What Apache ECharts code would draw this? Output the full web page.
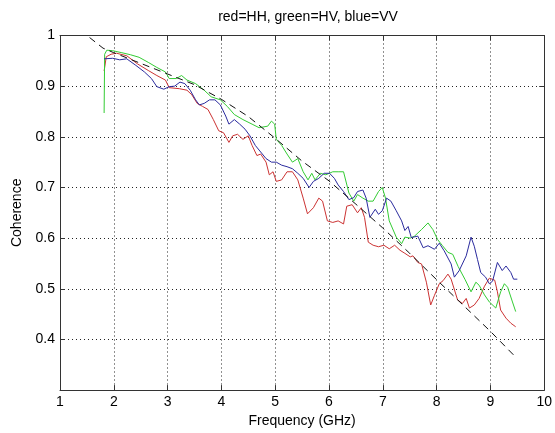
<!DOCTYPE html>
<html>
<head>
<meta charset="utf-8">
<script src="https://cdn.jsdelivr.net/npm/echarts@6/dist/echarts.min.js"></script>
<style>html,body{margin:0;padding:0;background:#fff}#c{width:555px;height:433px}</style>
</head>
<body>
<div id="c"></div>
<script>
// Frequency (GHz) / coherence readings
var hhX = [1.82,1.86,1.95,2.05,2.24,2.44,2.64,2.80,2.96,3.03,3.22,3.36,3.45,3.55,3.65,3.75,3.85,3.95,4.04,4.14,4.21,4.30,4.40,4.50,4.57,4.66,4.73,4.83,4.89,4.96,5.02,5.12,5.22,5.32,5.42,5.52,5.60,5.71,5.81,5.88,5.97,6.07,6.17,6.27,6.33,6.43,6.53,6.60,6.66,6.73,6.82,6.92,7.02,7.12,7.22,7.32,7.41,7.51,7.56,7.65,7.72,7.81,7.89,7.96,8.05,8.12,8.21,8.27,8.39,8.48,8.55,8.61,8.70,8.79,8.89,8.98,9.08,9.13,9.19,9.29,9.38,9.47];
var hhY = [0.930,0.958,0.963,0.965,0.960,0.944,0.931,0.921,0.912,0.897,0.895,0.892,0.883,0.866,0.860,0.854,0.834,0.812,0.808,0.789,0.802,0.805,0.795,0.802,0.783,0.763,0.766,0.750,0.725,0.731,0.712,0.715,0.731,0.731,0.715,0.679,0.648,0.660,0.679,0.673,0.634,0.631,0.634,0.628,0.663,0.666,0.650,0.660,0.641,0.592,0.586,0.583,0.586,0.579,0.586,0.576,0.570,0.563,0.565,0.552,0.549,0.513,0.468,0.487,0.510,0.516,0.529,0.519,0.478,0.471,0.481,0.462,0.468,0.481,0.505,0.521,0.517,0.494,0.458,0.442,0.432,0.425];

var hvX = [1.82,1.83,1.87,1.98,2.15,2.31,2.47,2.64,2.80,2.96,3.03,3.16,3.26,3.36,3.52,3.68,3.81,3.98,4.11,4.24,4.40,4.57,4.70,4.86,4.93,4.99,5.02,5.12,5.22,5.32,5.42,5.52,5.61,5.68,5.74,5.84,5.94,6.07,6.17,6.27,6.37,6.46,6.53,6.63,6.73,6.82,6.92,6.99,7.05,7.12,7.25,7.35,7.41,7.51,7.59,7.72,7.84,7.93,8.02,8.11,8.21,8.30,8.40,8.53,8.64,8.73,8.79,8.89,8.98,9.10,9.19,9.26,9.32,9.41,9.47];
var hvY = [0.847,0.963,0.971,0.970,0.966,0.962,0.957,0.947,0.937,0.928,0.915,0.915,0.921,0.912,0.905,0.892,0.879,0.873,0.860,0.844,0.834,0.825,0.818,0.821,0.831,0.825,0.795,0.783,0.766,0.750,0.757,0.731,0.715,0.728,0.715,0.728,0.725,0.731,0.731,0.731,0.689,0.673,0.686,0.679,0.673,0.673,0.692,0.700,0.679,0.634,0.602,0.589,0.602,0.600,0.604,0.617,0.630,0.617,0.597,0.585,0.572,0.568,0.544,0.518,0.494,0.513,0.507,0.488,0.474,0.462,0.494,0.510,0.503,0.474,0.455];

var vvX = [1.82,1.98,2.11,2.24,2.41,2.57,2.70,2.80,2.93,3.03,3.13,3.23,3.32,3.42,3.52,3.59,3.68,3.78,3.88,3.98,4.08,4.14,4.24,4.34,4.44,4.53,4.63,4.73,4.83,4.93,5.02,5.12,5.22,5.32,5.42,5.52,5.63,5.71,5.81,5.91,6.01,6.10,6.17,6.27,6.37,6.46,6.53,6.63,6.69,6.76,6.86,6.92,6.99,7.07,7.15,7.25,7.35,7.41,7.47,7.53,7.65,7.75,7.84,7.96,8.05,8.14,8.27,8.33,8.42,8.55,8.64,8.70,8.76,8.82,8.91,8.98,9.04,9.13,9.22,9.29,9.38,9.43,9.50];
var vvY = [0.954,0.955,0.952,0.954,0.941,0.928,0.915,0.899,0.894,0.899,0.900,0.908,0.905,0.892,0.873,0.863,0.866,0.873,0.873,0.863,0.841,0.825,0.834,0.825,0.815,0.802,0.783,0.770,0.757,0.750,0.750,0.744,0.741,0.737,0.728,0.718,0.700,0.712,0.718,0.728,0.728,0.718,0.705,0.692,0.676,0.680,0.692,0.695,0.679,0.641,0.657,0.647,0.654,0.679,0.673,0.654,0.634,0.615,0.623,0.601,0.604,0.581,0.585,0.578,0.590,0.575,0.549,0.523,0.536,0.565,0.602,0.584,0.558,0.532,0.523,0.510,0.515,0.552,0.536,0.545,0.532,0.519,0.519];

var fitX = [1.55,1.80,2.0,2.5,3.0,3.5,4.0,4.5,5.0,5.5,6.0,6.5,7.0,7.5,8.0,8.5,9.0,9.48];
var fitY = [0.996,0.975,0.966,0.945,0.924,0.903,0.874,0.840,0.797,0.752,0.713,0.667,0.620,0.570,0.518,0.467,0.416,0.364];

var xTicks = [1,2,3,4,5,6,7,8,9,10];
var yTicks = [0.3,0.4,0.5,0.6,0.7,0.8,0.9,1];

function pairs(xs, ys){ return xs.map(function(x,i){ return [x, ys[i]]; }); }

var font = 'Liberation Sans, Arial, sans-serif';
var frame = '#333';
var fs = 14;
function xAx(pos, show){
  return {
    type:'value', position:pos, min:xTicks[0], max:xTicks[xTicks.length-1], interval:1,
    axisLine:{show:true, onZero:false, lineStyle:{color:frame, width:1}},
    axisTick:{show:true, inside:true, length:5, lineStyle:{color:frame}},
    axisLabel:{show:show, color:'#000', fontSize:fs, fontFamily:font, margin:5},
    splitLine:{show:show, lineStyle:{color:'#222', type:[1,3], width:1}}
  };
}
function yAx(pos, show){
  return {
    type:'value', position:pos, min:yTicks[0], max:yTicks[yTicks.length-1], interval:0.1,
    axisLine:{show:true, onZero:false, lineStyle:{color:frame, width:1}},
    axisTick:{show:true, inside:true, length:5, lineStyle:{color:frame}},
    axisLabel:{show:show, color:'#000', fontSize:fs, fontFamily:font, margin:5,
      formatter:function(v){ if (Math.abs(v-0.3)<1e-6) return ''; if (Math.abs(v-1)<1e-6) return '1'; return v.toFixed(1); }},
    splitLine:{show:show, lineStyle:{color:'#222', type:[1,3], width:1}}
  };
}

var chart = echarts.init(document.getElementById('c'), null, {renderer:'canvas'});
var xb = xAx('bottom', true); xb.name = 'Frequency (GHz)'; xb.nameLocation='middle'; xb.nameGap=22;
xb.nameTextStyle = {color:'#000', fontSize:fs, fontFamily:font};
var yl = yAx('left', true); yl.name='Coherence'; yl.nameLocation='middle'; yl.nameGap=36;
yl.nameTextStyle = {color:'#000', fontSize:fs, fontFamily:font};

function line(name, xs, ys, color, dash){
  return {name:name, type:'line', xAxisIndex:0, yAxisIndex:0, data:pairs(xs,ys), showSymbol:false, symbol:'none',
    lineStyle:{color:color, width:1, type: dash ? [7,5] : 'solid'}, itemStyle:{color:color}, animation:false, z: dash?3:2};
}

chart.setOption({
  animation:false,
  backgroundColor:'#fff',
  title:{text:'red=HH, green=HV, blue=VV', left:303, textAlign:'center', top:5,
    textStyle:{fontSize:fs, fontWeight:'normal', color:'#000', fontFamily:font}},
  grid:{left:60, right:8, top:35.5, bottom:33, containLabel:false},
  xAxis:[xb, xAx('top', false)],
  yAxis:[yl, yAx('right', false)],
  series:[
    line('HH', hhX, hhY, '#cc3333', false),
    line('HV', hvX, hvY, '#33cc33', false),
    line('VV', vvX, vvY, '#2b2b9e', false),
    line('fit', fitX, fitY, '#111111', true)
  ]
});
</script>
</body>
</html>
